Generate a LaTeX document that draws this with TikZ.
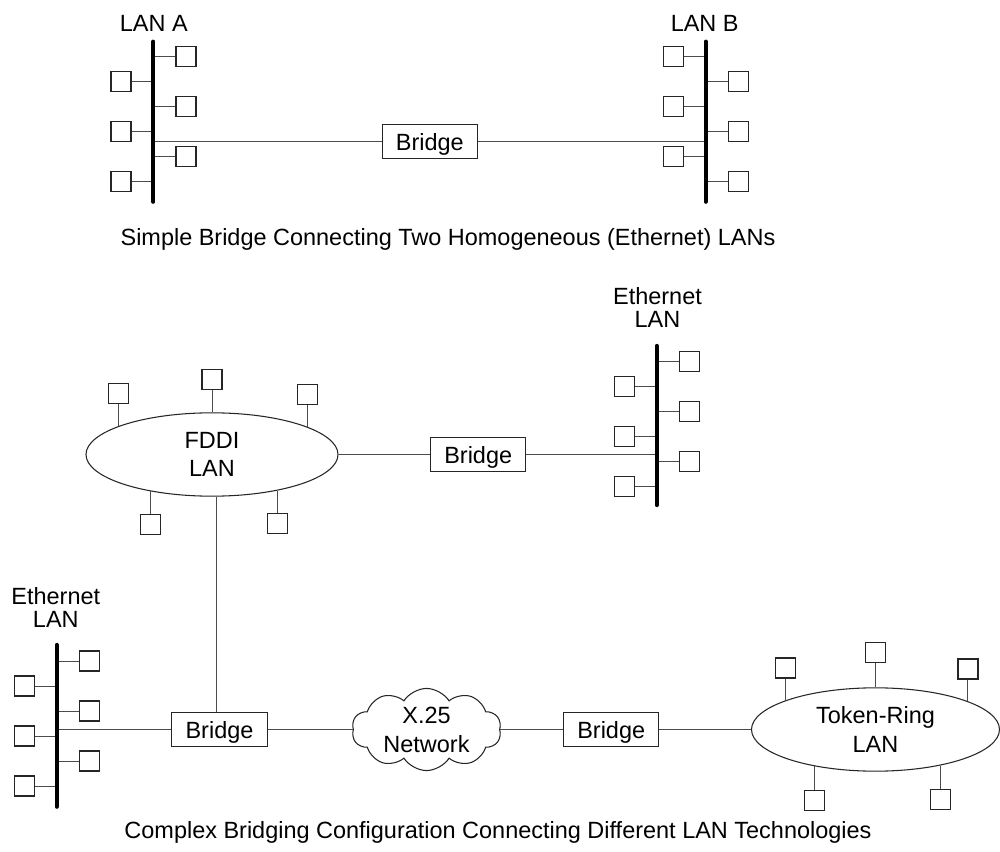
\documentclass[tikz,border=0pt]{standalone}
\usepackage{fontspec}
\setmainfont{Liberation Sans}
\usetikzlibrary{shapes.geometric,shapes.symbols,positioning}
\begin{document}
\begin{tikzpicture}[x=0.75pt,y=-0.75pt,
  txt/.style={font=\fontsize{17.6}{17.6}\selectfont},
  station/.style={draw=black!85, line width=0.8pt, minimum size=15pt, inner sep=0pt},
  bridgebox/.style={txt, draw=black!85, line width=0.8pt, minimum width=71.5pt, minimum height=25.5pt, inner sep=0pt, text depth=0pt},
  wire/.style={draw=black!70, line width=0.75pt},
  bus/.style={line width=3.2pt, line cap=round},
  lbl/.style={txt, inner sep=0pt, text depth=0pt},
  lbl2/.style={txt, inner sep=0pt, align=center},
  lanshape/.style={draw=black!85, line width=0.8pt, inner sep=0pt, align=center,
    font=\fontsize{17.6}{21.3}\selectfont}]
\useasboundingbox (0,0) rectangle (1000,852);

% ---------------- top: simple bridge ----------------
\node[lbl] (laname) at (153.8,23.7) {LAN A};
\node[lbl] (lbname) at (704.7,23.7) {LAN B};
\coordinate (laT) at (153.3,41.7); \coordinate (laB) at (153.3,201.7);
\coordinate (lbT) at (705.7,41.7); \coordinate (lbB) at (705.7,201.7);

\foreach \y [count=\i] in {56.7,106.7,156.7} {
  \node[station] (laR\i) at (186,\y) {};
  \draw[wire] (laR\i.west) -- (laR\i.west -| laT);
  \node[station] (lbL\i) at (673.2,\y) {};
  \draw[wire] (lbL\i.east) -- (lbL\i.east -| lbT);
}
\foreach \y [count=\i] in {81.7,131.7,181.7} {
  \node[station] (laL\i) at (121,\y) {};
  \draw[wire] (laL\i.east) -- (laL\i.east -| laT);
  \node[station] (lbR\i) at (738.2,\y) {};
  \draw[wire] (lbR\i.west) -- (lbR\i.west -| lbT);
}

\node[bridgebox] (br1) at (429.8,141.7) {Bridge};
\draw[wire] (laT |- br1.west) -- (br1.west);
\draw[wire] (br1.east) -- (br1.east -| lbT);
\draw[bus] (laT) -- (laB);
\draw[bus] (lbT) -- (lbB);

\node[lbl] (cap1) at (448,237) {Simple Bridge Connecting Two Homogeneous (Ethernet) LANs};

% ---------------- bottom: complex configuration ----------------
% FDDI ring
\node[lanshape, ellipse, minimum width=189pt, minimum height=62.5pt] (fddi) at (212,454.5) {FDDI\\LAN};
\node[station, above=16.5pt of fddi.163] (f1) {};
\node[station, above=16.5pt of fddi.90] (f2) {};
\node[station, above=16.5pt of fddi.16] (f3) {};
\node[station, below=17pt of fddi.211.5] (f4) {};
\node[station, below=17pt of fddi.331] (f5) {};
\draw[wire] (f1.south) -- (fddi.163);
\draw[wire] (f2.south) -- (fddi.90);
\draw[wire] (f3.south) -- (fddi.16);
\draw[wire] (f4.north) -- (fddi.211.5);
\draw[wire] (f5.north) -- (fddi.331);

% upper right Ethernet
\node[lbl2] (e1name) at (657.5,307.7) {Ethernet\\LAN};
\coordinate (e1T) at (656.7,346); \coordinate (e1B) at (656.7,505);
\foreach \y [count=\i] in {361.7,411.7,461.7} {
  \node[station] (e1R\i) at (689.2,\y) {};
  \draw[wire] (e1R\i.west) -- (e1R\i.west -| e1T);
}
\foreach \y [count=\i] in {386.7,436.7,486.7} {
  \node[station] (e1L\i) at (624.2,\y) {};
  \draw[wire] (e1L\i.east) -- (e1L\i.east -| e1T);
}
\node[bridgebox] (br2) at (478.2,454.5) {Bridge};
\draw[wire] (fddi.east) -- (br2.west);
\draw[wire] (br2.east) -- (br2.east -| e1T);
\draw[bus] (e1T) -- (e1B);

% lower left Ethernet
\node[lbl2] (e2name) at (55.8,607.7) {Ethernet\\LAN};
\coordinate (e2T) at (56.7,645); \coordinate (e2B) at (56.7,806.7);
\foreach \y [count=\i] in {661,711,761} {
  \node[station] (e2R\i) at (89.2,\y) {};
  \draw[wire] (e2R\i.west) -- (e2R\i.west -| e2T);
}
\foreach \y [count=\i] in {686,736,786} {
  \node[station] (e2L\i) at (24.2,\y) {};
  \draw[wire] (e2L\i.east) -- (e2L\i.east -| e2T);
}
\node[bridgebox] (br3) at (219.5,729.5) {Bridge};
\draw[wire] (e2T |- br3.west) -- (br3.west);
\coordinate (vx) at (216,0);
\draw[wire] (fddi.south -| vx) -- (br3.north -| vx);
\draw[bus] (e2T) -- (e2B);

% X.25 cloud
\node[lanshape, cloud, cloud puffs=10, cloud puff arc=115, aspect=1.9,
      minimum width=112pt, minimum height=58pt, font=\fontsize{17.6}{21.75}\selectfont] (x25) at (426.5,729.5) {X.25\\Network};
\draw[wire] (br3.east) -- (br3.east -| x25.west);

\node[bridgebox] (br4) at (611.2,729.5) {Bridge};
\draw[wire] (br4.west -| x25.east) -- (br4.west);

% Token ring
\node[lanshape, ellipse, minimum width=186pt, minimum height=62.5pt] (tr) at (875.5,729.5) {Token-Ring\\LAN};
\node[station, above=16.3pt of tr.162.7] (t1) {};
\node[station, above=18pt of tr.90] (t2) {};
\node[station, above=16.3pt of tr.17] (t3) {};
\node[station, below=17.5pt of tr.211.5] (t4) {};
\node[station, below=17.5pt of tr.331] (t5) {};
\draw[wire] (t1.south) -- (tr.162.7);
\draw[wire] (t2.south) -- (tr.90);
\draw[wire] (t3.south) -- (tr.17);
\draw[wire] (t4.north) -- (tr.211.5);
\draw[wire] (t5.north) -- (tr.331);
\draw[wire] (br4.east) -- (tr.west);

\node[lbl] (cap2) at (498,830) {Complex Bridging Configuration Connecting Different LAN Technologies};
\end{tikzpicture}
\end{document}
